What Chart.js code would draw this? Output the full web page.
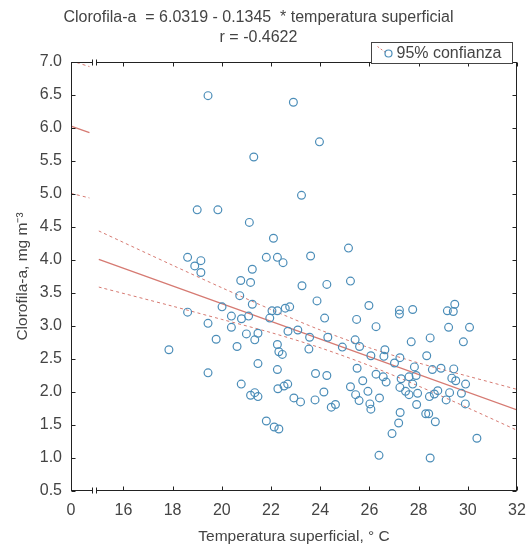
<!DOCTYPE html>
<html>
<head>
<meta charset="utf-8">
<script src="https://cdn.jsdelivr.net/npm/chart.js@4.4.1/dist/chart.umd.min.js"></script>
<style>
  html, body { margin: 0; padding: 0; background: #fff; }
  #wrap { width: 528px; height: 550px; }
</style>
</head>
<body>
<div id="wrap"><canvas id="chart"></canvas></div>
<script>
// temperatura superficial (°C) and clorofila-a (mg m-3)
const tempSup = [
  19.44, 22.91, 23.97, 21.30, 23.24, 19.00, 19.84, 21.12, 22.10, 25.15,
  18.61, 19.15, 18.90, 19.15, 21.81, 22.26, 22.49, 23.61, 21.24, 20.77,
  21.17, 23.26, 24.27, 25.23, 20.73, 23.87, 21.24, 20.01, 18.61, 22.04,
  22.26, 22.58, 22.76, 25.98, 20.39, 21.09, 20.80, 21.95, 24.18, 25.48,
  19.44, 20.39, 26.27, 22.69, 23.09, 23.57, 24.31, 21.00, 21.47, 21.34,
  19.77, 17.85, 20.62, 23.54, 22.26, 22.32, 22.46, 24.90, 25.42, 25.60,
  26.06, 21.47, 22.26, 19.44, 23.81, 24.27, 25.50, 26.27, 20.79, 22.28,
  22.53, 22.68, 24.15, 21.17, 21.34, 21.47, 22.93, 23.20, 23.79, 24.62,
  24.45, 25.23, 25.73, 25.94, 25.44, 25.58, 26.02, 26.06, 26.41, 21.81,
  22.13, 22.32, 26.39, 27.22, 27.22, 27.76, 29.17, 29.47, 29.41, 29.22,
  30.07, 27.70, 28.47, 29.82, 26.63, 26.59, 27.24, 27.02, 28.33, 27.83,
  28.56, 28.91, 29.43, 26.56, 26.68, 27.29, 27.61, 27.90, 29.35, 29.51,
  29.91, 27.24, 27.76, 27.47, 27.61, 27.96, 28.78, 28.64, 29.26, 28.44,
  29.12, 29.74, 29.90, 27.92, 27.25, 28.29, 28.41, 28.68, 27.19, 26.92,
  30.37, 28.47
];
const clorofila = [
  6.49, 6.39, 5.79, 5.56, 4.98, 4.76, 4.76, 4.57, 4.33, 4.18,
  4.04, 3.99, 3.91, 3.81, 4.04, 4.04, 3.96, 4.06, 3.86, 3.69,
  3.66, 3.61, 3.63, 3.68, 3.46, 3.38, 3.33, 3.29, 3.21, 3.23,
  3.23, 3.27, 3.29, 3.31, 3.15, 3.15, 3.11, 3.12, 3.12, 3.10,
  3.04, 2.98, 2.99, 2.92, 2.94, 2.83, 2.83, 2.88, 2.89, 2.79,
  2.80, 2.64, 2.69, 2.65, 2.72, 2.61, 2.57, 2.68, 2.79, 2.69,
  2.55, 2.43, 2.34, 2.29, 2.28, 2.25, 2.36, 2.27, 2.12, 2.05,
  2.09, 2.12, 2.00, 1.95, 1.99, 1.93, 1.91, 1.85, 1.88, 1.81,
  1.77, 2.08, 2.17, 2.01, 1.96, 1.87, 1.82, 1.74, 1.91, 1.56,
  1.47, 1.44, 1.04, 3.24, 3.18, 3.25, 3.23, 3.33, 3.22, 2.98,
  2.98, 2.76, 2.82, 2.76, 2.64, 2.54, 2.52, 2.44, 2.55, 2.38,
  2.34, 2.36, 2.35, 2.23, 2.15, 2.20, 2.23, 2.25, 2.21, 2.17,
  2.12, 2.07, 2.12, 2.01, 1.96, 1.98, 2.02, 1.97, 1.99, 1.93,
  1.88, 1.98, 1.82, 1.81, 1.69, 1.67, 1.67, 1.55, 1.53, 1.37,
  1.30, 1.00
];

// regression line and 95% band (right part of the broken axis)
const fitX = [15, 32];
const fitY = [4.01, 1.73];
const bandX = [15, 18, 20, 22, 24, 26, 28, 30, 32];
const bandUpper = [4.44, 3.92, 3.58, 3.25, 2.94, 2.67, 2.44, 2.24, 2.04];
const bandLower = [3.59, 3.30, 3.10, 2.90, 2.67, 2.40, 2.09, 1.76, 1.42];

// left stub of the broken axis (real temperature 0 .. 0.75)
const leftX = [0, 0.75];
const leftFit = [6.03, 5.93];
const leftUpper = [7.02, 6.93];
const leftLower = [5.01, 4.94];

const xTickLabels = [0, 16, 18, 20, 22, 24, 26, 28, 30, 32];

// axis break: the "0" sits at 13.87 on the drawn scale
const X_START = 13.87;
const BREAK = [14.72, 14.88];
const toAxis = (v) => (v < 10 ? v + X_START : v);

const FONT = "'Liberation Sans', Arial, sans-serif";
const INK = '#444';
const RED = '#d67a72';
const BLUE = '#4b8db8';

const pts = (xs, ys) => xs.map((x, i) => ({ x: toAxis(x), y: ys[i] }));

const lineSet = (data, dashed) => ({
  type: 'line',
  data,
  borderColor: RED,
  borderWidth: dashed ? 1 : 1.3,
  borderDash: dashed ? [3, 3] : [],
  pointRadius: 0,
  tension: 0.3,
  fill: false,
});

const framePlugin = {
  id: 'frame',
  afterDatasetsDraw(chart) {
    const { ctx, chartArea: a, scales } = chart;
    const L = Math.round(a.left) + 0.5, R = Math.round(a.right) - 0.5;
    const T = Math.round(a.top) + 0.5, B = Math.round(a.bottom) - 0.5;
    ctx.save();
    ctx.strokeStyle = '#222';
    ctx.lineWidth = 1;
    ctx.strokeRect(L, T, R - L, B - T);

    // inward ticks
    ctx.beginPath();
    scales.x.ticks.forEach((t, i) => {
      if (i === 0) return;
      const px = Math.round(scales.x.getPixelForValue(t.value)) + 0.5;
      ctx.moveTo(px, B); ctx.lineTo(px, B - 4);
      ctx.moveTo(px, T); ctx.lineTo(px, T + 4);
    });
    scales.y.ticks.forEach((t) => {
      const py = Math.round(scales.y.getPixelForValue(t.value)) + 0.5;
      ctx.moveTo(L, py); ctx.lineTo(L + 4, py);
      ctx.moveTo(R, py); ctx.lineTo(R - 4, py);
    });
    ctx.stroke();

    // axis break on top and bottom
    const b0 = Math.round(scales.x.getPixelForValue(BREAK[0])) + 0.5;
    const b1 = Math.round(scales.x.getPixelForValue(BREAK[1])) + 0.5;
    ctx.fillStyle = '#fff';
    [T, B].forEach((yy) => ctx.fillRect(b0 + 0.5, yy - 1.5, b1 - b0 - 1, 3));
    ctx.beginPath();
    [T, B].forEach((yy) => {
      ctx.moveTo(b0, yy - 3); ctx.lineTo(b0, yy + 3);
      ctx.moveTo(b1, yy - 3); ctx.lineTo(b1, yy + 3);
    });
    ctx.stroke();

    // legend box
    const w = 141, h = 21;
    const bx = Math.round(a.right - 5 - w) + 0.5, by = Math.round(a.top - 20) + 0.5;
    ctx.fillStyle = '#fff';
    ctx.fillRect(bx, by, w, h);
    ctx.strokeStyle = '#444';
    ctx.strokeRect(bx, by, w, h);
    ctx.strokeStyle = RED;
    ctx.setLineDash([2, 2]);
    ctx.beginPath();
    ctx.moveTo(bx + 6, by + 4); ctx.lineTo(bx + 14, by + 10);
    ctx.stroke();
    ctx.setLineDash([]);
    ctx.strokeStyle = BLUE;
    ctx.lineWidth = 1.2;
    ctx.beginPath();
    ctx.arc(bx + 17, by + 11, 3.5, 0, Math.PI * 2);
    ctx.stroke();
    ctx.fillStyle = INK;
    ctx.font = '16px ' + FONT;
    ctx.textBaseline = 'middle';
    ctx.fillText('95% confianza', bx + 25, by + h / 2 + 1);
    ctx.restore();
  },
};

new Chart(document.getElementById('chart'), {
  type: 'scatter',
  data: {
    datasets: [
      {
        data: pts(tempSup, clorofila),
        pointStyle: 'circle',
        pointRadius: 3.9,
        borderColor: BLUE,
        borderWidth: 1.2,
        backgroundColor: 'rgba(0,0,0,0)',
      },
      lineSet(pts(fitX, fitY), false),
      lineSet(pts(bandX, bandUpper), true),
      lineSet(pts(bandX, bandLower), true),
      lineSet(pts(leftX, leftFit), false),
      lineSet(pts(leftX, leftUpper), true),
      lineSet(pts(leftX, leftLower), true),
    ],
  },
  options: {
    responsive: true,
    maintainAspectRatio: false,
    animation: false,
    events: [],
    layout: { padding: { left: 0, right: 11, top: 0, bottom: 0 } },
    plugins: {
      legend: { display: false },
      tooltip: { enabled: false },
      title: {
        display: true,
        text: [
          'Clorofila-a  = 6.0319 - 0.1345  * temperatura superficial',
          'r = -0.4622',
        ],
        color: INK,
        font: { family: FONT, size: 16, weight: 'normal', lineHeight: 1.25 },
        padding: { top: 8, bottom: 14 },
      },
    },
    scales: {
      x: {
        type: 'linear',
        min: X_START,
        max: 32,
        afterBuildTicks: (scale) => {
          scale.ticks = xTickLabels.map((v) => ({ value: toAxis(v) }));
        },
        afterFit: (scale) => {
          scale.height = 59;
          scale.paddingLeft = 0;
          scale.paddingRight = 0;
        },
        grid: { display: false, drawTicks: false },
        border: { display: false },
        ticks: {
          color: INK,
          padding: 10,
          maxRotation: 0,
          font: { family: FONT, size: 16 },
          callback: (v) => (v === X_START ? '0' : String(v)),
        },
        title: {
          display: true,
          text: 'Temperatura superficial, ° C',
          color: INK,
          font: { family: FONT, size: 15.5 },
          padding: { top: 0, bottom: 4 },
        },
      },
      y: {
        min: 0.5,
        max: 7.0,
        afterFit: (scale) => { scale.width = 71; },
        grid: { display: false, drawTicks: false },
        border: { display: false },
        ticks: {
          stepSize: 0.5,
          color: INK,
          padding: 9,
          font: { family: FONT, size: 16 },
          callback: (v) => v.toFixed(1),
        },
        title: {
          display: true,
          text: 'Clorofila-a, mg m⁻³',
          color: INK,
          font: { family: FONT, size: 15.5 },
          padding: { top: 13, bottom: 0 },
        },
      },
    },
  },
  plugins: [framePlugin],
});
</script>
</body>
</html>
